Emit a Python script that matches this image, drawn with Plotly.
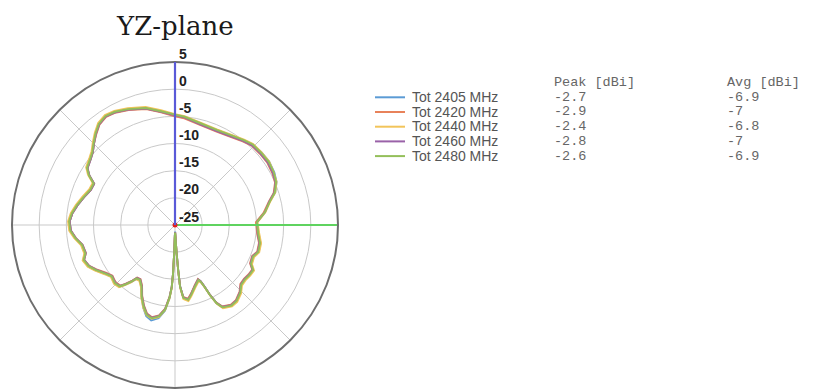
import plotly.graph_objects as go

# Measurement angles (degrees, clockwise from +Z at the top)
theta_deg = [0, 5, 14, 24, 31, 39, 44, 50, 56, 62,
             67, 72, 76, 82, 88, 96, 102, 108, 112, 117,
             120, 124, 128, 132, 136, 141, 145, 150, 152, 153.5,
             154.5, 155.5, 157, 162, 167, 170, 173.5, 175.3, 176, 176.8,
             177.8, 179, 180.8, 181.6, 182.3, 183, 184.3, 186.7, 190, 194,
             197.5, 201, 205, 208.5, 212.5, 215.7, 217.5, 220, 222, 226,
             231, 235, 240.5, 244.5, 249, 252.5, 258, 262.5, 267, 272,
             276.5, 281.5, 287, 292.5, 297, 300, 303, 308, 311.5, 315,
             319, 323, 327.5, 332, 338, 346, 353, 360]

# Total gain in the YZ cut (dBi), one list per frequency
gain_2405 = [-4.9, -5.2, -5.8, -5.9, -5.6, -4.9, -4.4, -4.2, -4.1, -4.3,
             -4.7, -5.6, -7.0, -8.4, -10.0, -9.5, -8.9, -8.8, -9.4, -9.2,
             -8.4, -8.6, -8.8, -8.6, -7.8, -7.1, -7.0, -7.6, -8.8, -10.8,
             -12.6, -13.7, -14.1, -13.2, -11.9, -11.1, -11.6, -13.8, -16.9, -20.3,
             -23.0, -23.8, -23.2, -20.2, -16.2, -13.6, -11.5, -9.1, -7.6, -6.9,
             -7.4, -8.7, -10.4, -12.0, -12.9, -12.8, -11.8, -10.6, -9.7, -9.5,
             -9.9, -9.3, -8.1, -7.3, -6.9, -7.6, -7.4, -6.5, -5.8, -5.6,
             -6.0, -6.7, -7.5, -8.2, -8.3, -6.8, -5.8, -5.3, -4.8, -3.9,
             -2.8, -1.8, -1.3, -1.5, -2.1, -2.9, -4.0, -4.9]
gain_2420 = [-5.0, -5.3, -6.0, -6.2, -5.9, -5.2, -4.7, -4.6, -4.5, -4.7,
             -5.0, -5.9, -7.2, -8.5, -10.1, -9.8, -9.2, -9.1, -9.7, -9.5,
             -8.6, -8.7, -8.9, -8.8, -7.9, -7.2, -7.1, -7.7, -8.9, -10.8,
             -12.5, -13.6, -14.2, -13.3, -12.0, -11.2, -11.7, -13.7, -16.8, -20.1,
             -22.9, -23.7, -23.1, -20.1, -16.1, -13.6, -11.8, -9.5, -8.1, -7.5,
             -7.9, -9.1, -10.7, -12.3, -13.2, -13.1, -12.1, -10.9, -10.0, -9.8,
             -10.2, -9.6, -8.4, -7.5, -7.1, -7.8, -7.6, -6.6, -5.8, -5.6,
             -6.0, -6.7, -7.5, -8.2, -8.3, -6.8, -5.8, -5.3, -4.8, -3.9,
             -2.9, -1.9, -1.4, -1.6, -2.2, -3.0, -4.1, -5.0]
gain_2440 = [-4.6, -4.9, -5.6, -5.8, -5.5, -4.8, -4.3, -4.2, -4.1, -4.4,
             -4.7, -5.6, -6.9, -8.2, -9.8, -9.4, -8.8, -8.7, -9.3, -9.1,
             -8.2, -8.3, -8.5, -8.4, -7.5, -6.8, -6.7, -7.3, -8.5, -10.4,
             -12.2, -13.3, -13.8, -12.9, -11.6, -10.8, -11.3, -13.4, -16.5, -19.8,
             -22.6, -23.5, -22.8, -19.8, -15.8, -13.3, -11.4, -9.2, -7.8, -7.2,
             -7.6, -8.7, -10.3, -11.9, -12.8, -12.7, -11.7, -10.5, -9.6, -9.4,
             -9.8, -9.2, -8.0, -7.2, -6.8, -7.5, -7.3, -6.3, -5.5, -5.3,
             -5.7, -6.4, -7.2, -7.9, -8.0, -6.5, -5.5, -5.0, -4.5, -3.6,
             -2.5, -1.5, -1.0, -1.2, -1.8, -2.6, -3.7, -4.6]
gain_2460 = [-4.8, -5.1, -5.9, -6.1, -5.8, -5.1, -4.6, -4.5, -4.4, -4.6,
             -4.9, -5.8, -7.1, -8.3, -9.9, -9.7, -9.1, -9.0, -9.6, -9.4,
             -8.5, -8.6, -8.8, -8.7, -7.8, -7.1, -7.0, -7.6, -8.8, -10.7,
             -12.5, -13.6, -14.1, -13.2, -11.9, -11.1, -11.6, -13.7, -16.8, -20.1,
             -22.9, -23.7, -23.1, -20.1, -16.1, -13.6, -11.7, -9.4, -8.0, -7.4,
             -7.8, -9.0, -10.6, -12.2, -13.1, -13.0, -12.0, -10.8, -9.9, -9.7,
             -10.1, -9.5, -8.3, -7.5, -7.1, -7.8, -7.6, -6.6, -5.8, -5.6,
             -6.0, -6.7, -7.5, -8.2, -8.3, -6.8, -5.8, -5.3, -4.8, -3.9,
             -2.8, -1.8, -1.3, -1.5, -2.1, -2.9, -4.0, -4.8]
gain_2480 = [-4.7, -5.0, -5.7, -5.9, -5.6, -4.9, -4.4, -4.3, -4.2, -4.4,
             -4.8, -5.7, -7.0, -8.3, -9.9, -9.6, -9.0, -8.9, -9.5, -9.3,
             -8.4, -8.5, -8.7, -8.6, -7.7, -7.0, -6.9, -7.5, -8.7, -10.6,
             -12.4, -13.5, -14.0, -13.1, -11.8, -11.0, -11.5, -13.6, -16.7, -20.0,
             -22.8, -23.6, -23.0, -20.0, -16.0, -13.5, -11.6, -9.3, -7.9, -7.3,
             -7.7, -8.9, -10.5, -12.1, -13.0, -12.9, -11.9, -10.7, -9.8, -9.6,
             -10.0, -9.4, -8.2, -7.4, -7.0, -7.7, -7.5, -6.5, -5.7, -5.5,
             -5.9, -6.6, -7.4, -8.1, -8.2, -6.7, -5.7, -5.2, -4.7, -3.8,
             -2.7, -1.7, -1.2, -1.4, -2.0, -2.8, -3.9, -4.7]

series_names = ["Tot 2405 MHz", "Tot 2420 MHz", "Tot 2440 MHz", "Tot 2460 MHz", "Tot 2480 MHz"]
series_gain = [gain_2405, gain_2420, gain_2440, gain_2460, gain_2480]
series_colors = ["#5b9bd5", "#e8825a", "#f2c45a", "#9a62a8", "#94bf5a"]

peak_dbi = ["-2.7", "-2.9", "-2.4", "-2.8", "-2.6"]
avg_dbi = ["-6.9", "-7", "-6.8", "-7", "-6.9"]

radial_ticks = [-25, -20, -15, -10, -5, 0, 5]
radial_text = ["-25", "-20", "-15", "-10", "-5", "0", "5"]

W, H = 815, 389
R_MIN, R_MAX = -25, 5

fig = go.Figure()

for name, gain, color in zip(series_names, series_gain, series_colors):
    assert len(gain) == len(theta_deg)
    fig.add_trace(go.Scatterpolar(
        r=gain, theta=theta_deg, mode="lines", name=name,
        line=dict(color=color, width=1.9), showlegend=False,
    ))

# green reference axis pointing to +Y and red origin marker
fig.add_trace(go.Scatterpolar(
    r=[R_MIN, R_MAX + 0.2], theta=[90, 90], mode="lines",
    line=dict(color="#5fd35f", width=2.2), showlegend=False, cliponaxis=False,
))
fig.add_trace(go.Scatterpolar(
    r=[R_MIN], theta=[0], mode="markers",
    marker=dict(color="#e02020", size=5), showlegend=False,
))

# dB scale labels written beside the +Z axis
fig.add_trace(go.Scatterpolar(
    r=radial_ticks, theta=[0] * len(radial_ticks), mode="text",
    text=["\u00a0<b>%s</b>" % t for t in radial_text], textposition="top right",
    textfont=dict(family="Liberation Sans", size=14, color="#222"),
    showlegend=False, cliponaxis=False, hoverinfo="skip",
))

cx, cy, rad = 175, 225, 163
fig.update_layout(
    width=W, height=H,
    margin=dict(l=0, r=0, t=0, b=0),
    paper_bgcolor="white",
    plot_bgcolor="white",
    polar=dict(
        domain=dict(x=[(cx - rad) / W, (cx + rad) / W],
                    y=[(H - cy - rad) / H, (H - cy + rad) / H]),
        bgcolor="white",
        radialaxis=dict(
            range=[R_MIN, R_MAX], angle=90,
            tickmode="array", tickvals=radial_ticks, showticklabels=False,
            showline=True, linecolor="#5a5ad8", linewidth=2.2,
            gridcolor="#c9c9c9", gridwidth=1, ticks="",
        ),
        angularaxis=dict(
            rotation=90, direction="clockwise",
            tickmode="linear", dtick=45, showticklabels=False, ticks="",
            gridcolor="#c9c9c9", gridwidth=1,
            showline=True, linecolor="#6e6e6e", linewidth=2,
        ),
    ),
)

# title
fig.add_annotation(
    text="YZ-plane", x=cx / W, y=1 - 26 / H, xref="paper", yref="paper",
    xanchor="center", yanchor="middle", showarrow=False,
    font=dict(family="DejaVu Serif", size=26, color="#1a1a1a"),
)

# legend block and peak/average table (rows share one line pitch)
row0, row_step = 97.3, 14.7
pitch_size = row_step / 1.3


def sized(s, px):
    return '<span style="font-size:%gpx">%s</span>' % (px, s)


for i, color in enumerate(series_colors):
    yp = 1 - (row0 + row_step * i) / H
    fig.add_shape(type="line", xref="paper", yref="paper",
                  x0=375 / W, x1=405 / W, y0=yp, y1=yp,
                  line=dict(color=color, width=2))

legend_mid = 1 - (row0 + row_step * 2) / H
fig.add_annotation(text="<br>".join(sized(s, 14) for s in series_names),
                   x=410 / W, y=legend_mid,
                   xref="paper", yref="paper", xanchor="left", yanchor="middle",
                   align="left", showarrow=False,
                   font=dict(family="Liberation Sans", size=pitch_size, color="#555"))

table_mid = 1 - (row0 - row_step + row_step * 5 / 2) / H
for col, xp, head in ((peak_dbi, 552, "Peak [dBi]"), (avg_dbi, 725, "Avg [dBi]")):
    fig.add_annotation(text="<br>".join(sized(s, 13.5) for s in [head] + col),
                       x=xp / W, y=table_mid,
                       xref="paper", yref="paper", xanchor="left", yanchor="middle",
                       align="left", showarrow=False,
                       font=dict(family="Liberation Mono", size=pitch_size, color="#666"))

fig.write_html("out.html")
